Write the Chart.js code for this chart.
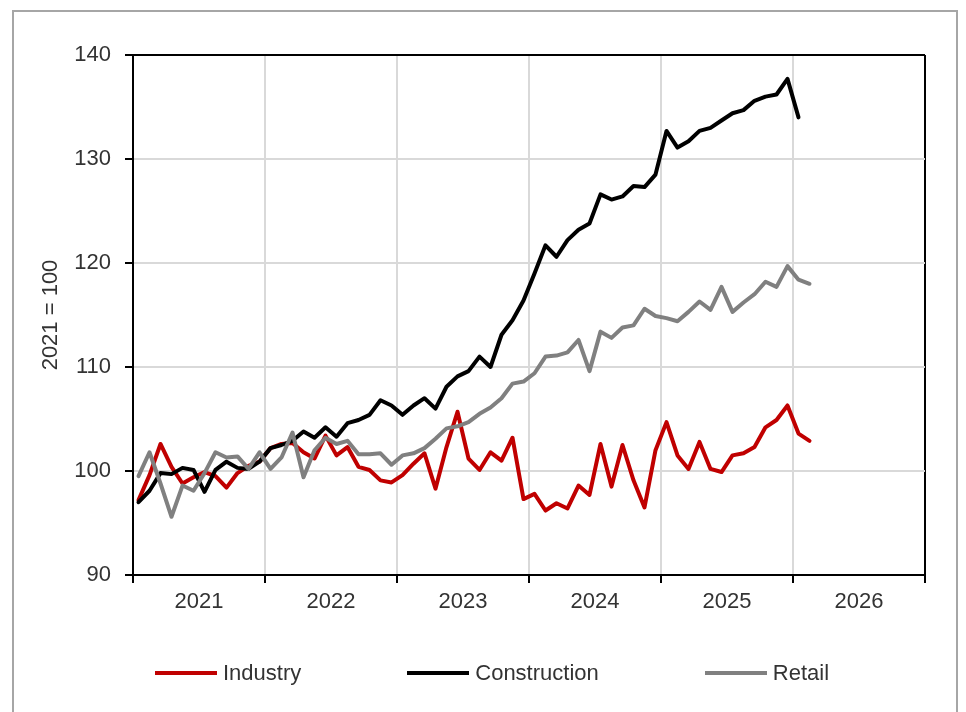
<!doctype html>
<html lang="en">
  <head>
    <meta charset="utf-8">
    <meta name="viewport" content="width=device-width, initial-scale=1">
    <title>Industry, Construction, Retail</title>
    <style>
      * {
        margin: 0;
        padding: 0;
        font-family: 'Liberation Sans', Arial, sans-serif;
      }
      body {
        width: 966px;
        height: 712px;
        background: white;
        position: relative;
        overflow: hidden;
      }
      .frame {
        position: absolute;
        left: 12px;
        top: 10px;
        width: 942px;
        height: 720px;
        border: 2px solid #a6a6a6;
      }
      .chartBox {
        position: absolute;
        left: 0;
        top: 0;
        width: 966px;
        height: 712px;
      }
      .legend {
        position: absolute;
        left: 155px;
        top: 659px;
        display: flex;
        gap: 106px;
        font-size: 22px;
        line-height: 28px;
        color: #333;
      }
      .legend .item {
        display: flex;
        align-items: center;
      }
      .legend .line {
        display: inline-block;
        width: 62px;
        height: 4px;
        margin-right: 6px;
      }
    </style>
  </head>
  <body>
    <div class="frame"></div>
    <div class="chartBox">
      <canvas id="myChart"></canvas>
    </div>
    <div class="legend" id="legend"></div>
    <script type="text/javascript" src="https://cdn.jsdelivr.net/npm/chart.js/dist/chart.umd.min.js"></script>
    <script>

    // data (monthly, Jan 2021 onwards)
    const yearLabels = ['2021', '2022', '2023', '2024', '2025', '2026'];
    const seriesNames = ['Industry', 'Construction', 'Retail'];
    const seriesColors = ['#c00000', '#000000', '#808080'];

    const industry = [
      97.2, 99.6, 102.6, 100.4, 98.8, 99.4, 99.9, 99.5, 98.4, 99.8, 100.5, 100.9,
      102.2, 102.6, 102.7, 101.8, 101.2, 103.4, 101.5, 102.3, 100.4, 100.1, 99.1, 98.9,
      99.6, 100.7, 101.7, 98.3, 102.3, 105.7, 101.2, 100.1, 101.8, 101.0, 103.2, 97.3,
      97.8, 96.2, 96.9, 96.4, 98.6, 97.7, 102.6, 98.5, 102.5, 99.1, 96.5, 102.0,
      104.7, 101.5, 100.2, 102.8, 100.2, 99.9, 101.5, 101.7, 102.3, 104.2, 104.9, 106.3,
      103.6, 102.9
    ];
    const construction = [
      97.0, 98.1, 99.8, 99.7, 100.3, 100.1, 98.0, 100.1, 100.9, 100.3, 100.2, 100.9,
      102.2, 102.5, 102.9, 103.8, 103.2, 104.2, 103.3, 104.6, 104.9, 105.4, 106.8, 106.3,
      105.4, 106.3, 107.0, 106.0, 108.1, 109.1, 109.6, 111.0, 110.0, 113.1, 114.5, 116.4,
      119.0, 121.7, 120.6, 122.2, 123.2, 123.8, 126.6, 126.1, 126.4, 127.4, 127.3, 128.5,
      132.7, 131.1, 131.7, 132.7, 133.0, 133.7, 134.4, 134.7, 135.6, 136.0, 136.2, 137.7,
      134.0
    ];
    const retail = [
      99.5, 101.8, 98.8, 95.6, 98.6, 98.1, 99.8, 101.8, 101.3, 101.4, 100.2, 101.8,
      100.2, 101.3, 103.7, 99.4, 102.0, 103.2, 102.6, 102.9, 101.6, 101.6, 101.7, 100.6,
      101.5, 101.7, 102.2, 103.1, 104.1, 104.3, 104.7, 105.5, 106.1, 107.0, 108.4, 108.6,
      109.4, 111.0, 111.1, 111.4, 112.6, 109.6, 113.4, 112.8, 113.8, 114.0, 115.6, 114.9,
      114.7, 114.4, 115.3, 116.3, 115.5, 117.7, 115.3, 116.2, 117.0, 118.2, 117.7, 119.7,
      118.4, 118.0
    ];
    const seriesValues = [industry, construction, retail];

    const totalMonths = yearLabels.length * 12;

    // month i is plotted in the middle of its month slot
    function toPoints(values) {
      return values.map(function(v, i) {
        return { x: i + 0.5, y: v };
      });
    }

    Chart.defaults.font.family = "'Liberation Sans', Arial, sans-serif";
    Chart.defaults.font.size = 22;
    Chart.defaults.color = '#333';

    // setup
    const data = {
      datasets: seriesNames.map(function(name, k) {
        return {
          label: name,
          data: toPoints(seriesValues[k]),
          borderColor: seriesColors[k],
          backgroundColor: seriesColors[k],
          borderWidth: 4,
          pointRadius: 0,
          tension: 0,
          borderJoinStyle: 'round',
          borderCapStyle: 'round',
          order: seriesNames.length - k
        };
      })
    };

    // config
    const config = {
      type: 'line',
      data,
      options: {
        responsive: true,
        maintainAspectRatio: false,
        animation: false,
        layout: {
          padding: { left: 0, top: 55, right: 41, bottom: 77 }
        },
        scales: {
          x: {
            type: 'linear',
            min: 0,
            max: totalMonths,
            ticks: {
              stepSize: 6,
              autoSkip: false,
              maxRotation: 0,
              padding: 6,
              callback: function(value) {
                return value % 12 === 6 ? yearLabels[(value - 6) / 12] : '';
              }
            },
            grid: {
              lineWidth: 2,
              tickLength: 8,
              tickWidth: 2,
              color: function(c) {
                const v = c.tick.value;
                if (v === 0 || v % 12 !== 0) return 'rgba(0,0,0,0)';
                return v === totalMonths ? '#000' : '#d9d9d9';
              },
              tickColor: function(c) {
                return c.tick.value % 12 === 0 ? '#000' : 'rgba(0,0,0,0)';
              }
            },
            border: { color: '#000', width: 2 },
            afterFit: function(scale) { scale.height = 60; }
          },
          y: {
            min: 90,
            max: 140,
            ticks: { stepSize: 10, padding: 14 },
            grid: {
              lineWidth: 2,
              tickLength: 8,
              tickWidth: 2,
              tickColor: '#000',
              color: function(c) {
                const v = c.tick.value;
                if (v === 90) return 'rgba(0,0,0,0)';
                return v === 140 ? '#000' : '#d9d9d9';
              }
            },
            border: { color: '#000', width: 2 },
            title: {
              display: true,
              text: '2021 = 100',
              padding: { top: 38, bottom: 0 }
            },
            afterFit: function(scale) { scale.width = 133; }
          }
        },
        plugins: {
          legend: { display: false },
          tooltip: { enabled: false }
        }
      }
    };

    // render init block
    const myChart = new Chart(
      document.getElementById('myChart'),
      config
    );

    // legend below the chart
    const legendBox = document.getElementById('legend');
    seriesNames.forEach(function(name, k) {
      const item = document.createElement('span');
      item.className = 'item';
      const line = document.createElement('span');
      line.className = 'line';
      line.style.background = seriesColors[k];
      item.appendChild(line);
      item.appendChild(document.createTextNode(name));
      legendBox.appendChild(item);
    });
    </script>

  </body>
</html>
